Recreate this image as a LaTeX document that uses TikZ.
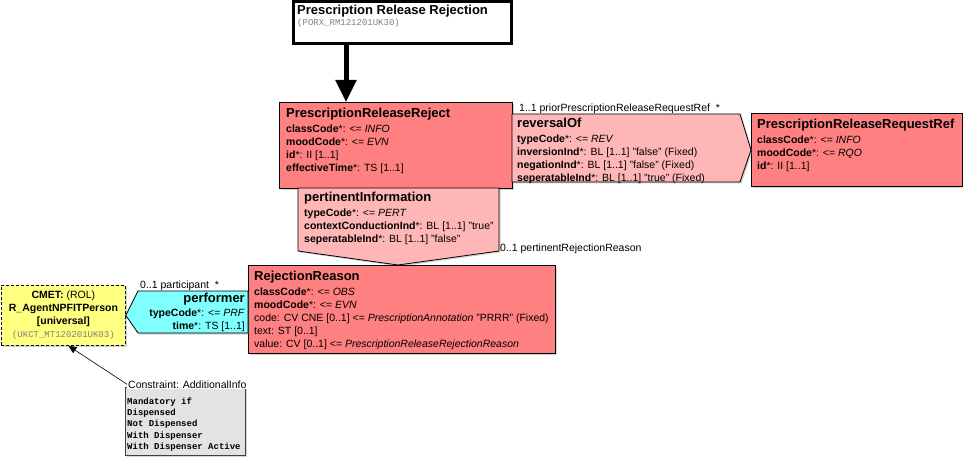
\documentclass[tikz,border=0pt]{standalone}
\usepackage{fontspec}
\setmainfont{Liberation Sans}
\setmonofont{Liberation Mono}
\usetikzlibrary{arrows.meta,shadows}

\definecolor{clsred}{HTML}{FF8080}
\definecolor{relpink}{HTML}{FFB6B6}
\definecolor{partcyan}{HTML}{80FFFF}
\definecolor{cmetyellow}{HTML}{FFFF80}
\definecolor{notegray}{HTML}{E3E3E3}

\newcommand{\hdfont}{\fontsize{13}{15}\selectfont\bfseries}
\newcommand{\attfont}{\fontsize{10.5}{13}\selectfont}
\newcommand{\codefont}{\fontsize{9}{11}\selectfont\ttfamily}
\newcommand{\att}[1]{\textbf{#1}*:}

\tikzset{
  boxshadow/.style={drop shadow={shadow xshift=1.5pt,shadow yshift=-1.5pt,opacity=.35}},
  box/.style={draw, line width=0.8pt, anchor=north west, inner sep=0pt, boxshadow},
  rel/.style={draw, line width=0.8pt, fill=relpink, boxshadow},
  txt/.style={anchor=north west, inner sep=0pt, align=left, font=\attfont},
  lbl/.style={anchor=base west, inner sep=0pt, font=\attfont},
}

\begin{document}
\begin{tikzpicture}[x=1pt,y=-1pt]
  \fill[white] (0,0) rectangle (963,457);

  \node[draw, line width=3pt, fill=white, anchor=north west, inner sep=0pt,
        minimum width=218pt, minimum height=42pt] (rmim) at (292,0) {};
  \node[txt, font=\hdfont] (rmimTitle) at (297,5) {Prescription Release Rejection};
  \node[txt, font=\codefont, text=gray] (rmimId) at (297,19) {(PORX\_RM121201UK30)};

  \node[box, fill=clsred, minimum width=233pt, minimum height=86pt] (reject) at (279,102) {};
  \node[txt] (rejectTxt) at (286,108) {{\hdfont PrescriptionReleaseReject}\\[2pt]
    \att{classCode} <= \textit{INFO}\\
    \att{moodCode} <= \textit{EVN}\\
    \att{id} II [1..1]\\
    \att{effectiveTime} TS [1..1]};

  \node[box, fill=clsred, minimum width=211pt, minimum height=73pt] (reqref) at (751,113) {};
  \node[txt] (reqrefTxt) at (757,119) {{\hdfont PrescriptionReleaseRequestRef}\\[2pt]
    \att{classCode} <= \textit{INFO}\\
    \att{moodCode} <= \textit{RQO}\\
    \att{id} II [1..1]};

  \draw[rel] (512,114) -- (740,114) -- (reqref.west) -- (740,182) -- (512,182) -- cycle;
  \node[txt] (reversalTxt) at (517,118) {{\hdfont reversalOf}\\[2pt]
    \att{typeCode} <= \textit{REV}\\
    \att{inversionInd} BL [1..1] "false" (Fixed)\\
    \att{negationInd} BL [1..1] "false" (Fixed)\\
    \att{seperatableInd} BL [1..1] "true" (Fixed)};
  \node[lbl] (reversalLbl) at (519,112) {1..1 priorPrescriptionReleaseRequestRef \ *};

  \draw[rel] (298,188) -- (499,188) -- (499,251) -- (398,265) -- (298,251) -- cycle;
  \node[txt] (pertinentTxt) at (304,192) {{\hdfont pertinentInformation}\\[2pt]
    \att{typeCode} <= \textit{PERT}\\
    \att{contextConductionInd} BL [1..1] "true"\\
    \att{seperatableInd} BL [1..1] "false"};
  \node[lbl] (pertinentLbl) at (500,251) {0..1 pertinentRejectionReason};

  \node[box, fill=clsred, minimum width=307pt, minimum height=88pt] (reason) at (248,265) {};
  \node[txt] (reasonTxt) at (254,271) {{\hdfont RejectionReason}\\[2pt]
    \att{classCode} <= \textit{OBS}\\
    \att{moodCode} <= \textit{EVN}\\
    code: CV CNE [0..1] <= \textit{PrescriptionAnnotation} "PRRR" (Fixed)\\
    text: ST [0..1]\\
    value: CV [0..1] <= \textit{PrescriptionReleaseRejectionReason}};

  \node[draw, dash pattern=on 3pt off 2pt, line width=0.8pt, fill=cmetyellow, anchor=north west,
        inner sep=0pt, minimum width=124pt, minimum height=60pt, align=center, font=\attfont,
        boxshadow] (cmet) at (1,285)
    {\textbf{CMET:} (ROL)\\ \textbf{R\_AgentNPFITPerson}\\ \textbf{[universal]}\\
     {\codefont\color{gray}(UKCT\_MT120201UK03)}};

  \draw[draw, line width=0.8pt, fill=partcyan, boxshadow]
    (248,291) -- (138,291) -- (cmet.east) -- (138,333) -- (248,333) -- cycle;
  \node[txt, anchor=north east, align=right] (performerTxt) at (245,293) {{\hdfont performer}\\[1pt]
    \att{typeCode} <= \textit{PRF}\\
    \att{time} TS [1..1]};
  \node[lbl] (performerLbl) at (140,288) {0..1 participant \ *};

  \node[box, fill=notegray, draw=black!75, minimum width=120pt, minimum height=68pt] (cnst) at (125,387) {};
  \node[txt, font=\fontsize{9}{11.3}\selectfont\ttfamily\bfseries, align=left] (cnstTxt) at (127,397.5)
    {Mandatory if\\ Dispensed\\ Not Dispensed\\ With Dispenser\\ With Dispenser Active};
  \node[lbl, fill=white, inner sep=1pt] (cnstLbl) at (127,388) {Constraint: AdditionalInfo};

  \begin{scope}[line width=0.6pt]
    \draw[line width=5pt, -{Triangle[width=20pt,length=22pt]}]
      ([xshift=54pt]rmim.south west) -- ([xshift=67pt]reject.north west);
    \draw[-{Triangle[width=7pt,length=8pt]}] (cnstLbl.west) -- ([xshift=5pt]cmet.south);
  \end{scope}
\end{tikzpicture}
\end{document}
